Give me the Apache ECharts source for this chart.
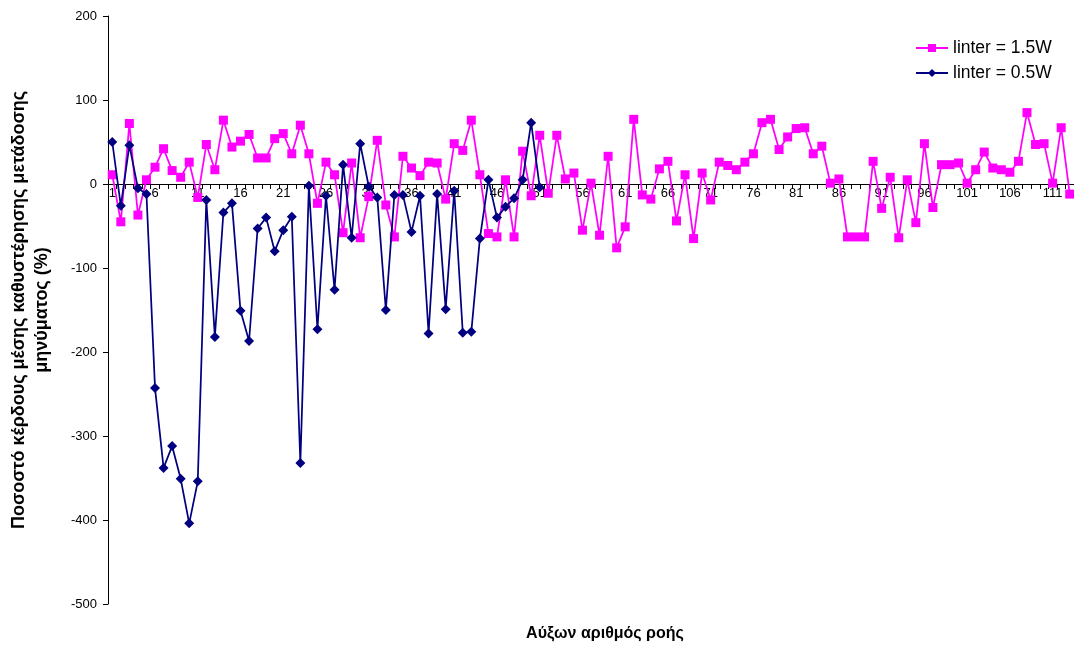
<!DOCTYPE html>
<html>
<head>
<meta charset="utf-8">
<script src="https://cdn.jsdelivr.net/npm/echarts@6/dist/echarts.min.js"></script>
<style>
  html, body { margin: 0; padding: 0; background: #fff; }
  #chart { width: 1074px; height: 646px; }
</style>
</head>
<body>
<div id="chart"></div>
<script>
// Percentage gain of mean message transmission delay per flow
const seriesNames = ['linter = 1.5W', 'linter = 0.5W'];

const gain15W = [
  11, -45, 72, -37, 5, 20, 42, 16, 8, 26,
  -16, 47, 17, 76, 44, 51, 59, 31, 31, 54,
  60, 36, 70, 36, -23, 26, 11, -58, 25, -64,
  -15, 52, -25, -63, 33, 19, 10, 26, 25, -18,
  48, 40, 76, 11, -59, -63, 5, -63, 39, -14,
  58, -11, 58, 6, 13, -55, 1, -61, 33, -76,
  -51, 77, -13, -18, 18, 27, -44, 11, -65, 13,
  -19, 26, 22, 17, 26, 36, 73, 77, 41, 56,
  66, 67, 36, 45, 1, 6, -63, -63, -63, 27,
  -29, 8, -64, 5, -46, 48, -28, 23, 23, 25,
  1, 17, 38, 19, 17, 14, 27, 85, 47, 48,
  1, 67, -12
];

const gain05W = [
  50, -26, 46, -5, -12, -243, -338, -312, -351, -404,
  -354, -19, -182, -34, -23, -151, -187, -53, -40, -80,
  -55, -39, -332, -2, -173, -14, -126, 23, -64, 48,
  -3, -16, -150, -13, -13, -57, -14, -178, -12, -149,
  -8, -177, -176, -65, 5, -40, -27, -17, 5, 73,
  -4
];

// Flow sequence numbers along the category axis
const flowIds = gain15W.map((_, i) => String(i + 1));

const yTicks = { min: -500, max: 200, step: 100 };

const yTitle = 'Ποσοστό κέρδους μέσης καθυστέρησης μετάδοσης\nμηνύματος (%)';
const xTitle = 'Αύξων αριθμός ροής';

const FONT = '"Liberation Sans", Arial, sans-serif';

const GRID = { left: 108, right: -4, top: 16, bottom: 42 };
const PLOT_H = 646 - GRID.top - GRID.bottom;
// Lift the category axis from the bottom edge up to the zero line
const zeroOffset = -PLOT_H * (0 - yTicks.min) / (yTicks.max - yTicks.min);

const chart = echarts.init(document.getElementById('chart'), null, { renderer: 'canvas' });

chart.setOption({
  backgroundColor: '#ffffff',
  animation: false,
  textStyle: { fontFamily: FONT, color: '#000' },
  grid: Object.assign({ containLabel: false }, GRID),
  legend: {
    orient: 'vertical',
    left: 915,
    top: 39,
    padding: 0,
    itemWidth: 32,
    itemHeight: 10,
    itemGap: 7,
    data: seriesNames,
    textStyle: { fontFamily: FONT, fontSize: 17.5, color: '#000' }
  },
  xAxis: {
    type: 'category',
    data: flowIds,
    boundaryGap: true,
    offset: zeroOffset,
    axisLine: { onZero: false, lineStyle: { color: '#000', width: 1 } },
    axisTick: { show: true, interval: 0, length: 5, lineStyle: { color: '#000' } },
    axisLabel: { interval: 4, margin: 3, fontSize: 13, color: '#000', fontFamily: FONT },
    splitLine: { show: false }
  },
  yAxis: {
    type: 'value',
    min: yTicks.min,
    max: yTicks.max,
    interval: yTicks.step,
    axisLine: { show: true, lineStyle: { color: '#000', width: 1 } },
    axisTick: { show: true, length: 5, lineStyle: { color: '#000' } },
    axisLabel: { margin: 11, fontSize: 13, color: '#000', fontFamily: FONT },
    splitLine: { show: false }
  },
  graphic: [
    {
      type: 'text',
      x: 31,
      y: 310,
      rotation: Math.PI / 2,
      style: {
        text: yTitle,
        font: 'bold 18px ' + FONT,
        fill: '#000',
        textAlign: 'center',
        textVerticalAlign: 'middle',
        lineHeight: 23
      }
    },
    {
      type: 'text',
      x: 605,
      y: 634,
      style: {
        text: xTitle,
        font: 'bold 16px ' + FONT,
        fill: '#000',
        textAlign: 'center',
        textVerticalAlign: 'middle'
      }
    }
  ],
  series: [
    {
      name: seriesNames[0],
      type: 'line',
      data: gain15W,
      symbol: 'rect',
      symbolSize: 9,
      showAllSymbol: true,
      lineStyle: { color: '#FF00FF', width: 1.75 },
      itemStyle: { color: '#FF00FF' },
      z: 2
    },
    {
      name: seriesNames[1],
      type: 'line',
      data: gain05W,
      symbol: 'diamond',
      symbolSize: 10,
      showAllSymbol: true,
      lineStyle: { color: '#000080', width: 1.75 },
      itemStyle: { color: '#000080' },
      z: 3
    }
  ]
});
</script>
</body>
</html>
